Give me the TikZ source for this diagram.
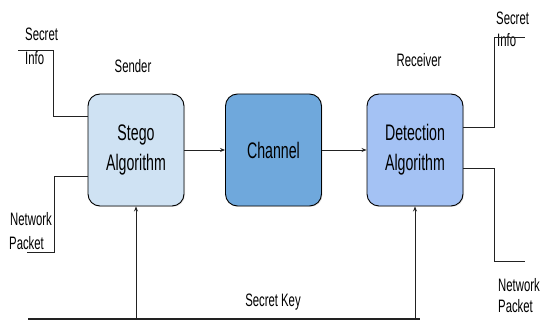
\documentclass[tikz,border=0pt]{standalone}
\usepackage{fontspec}
\setmainfont{Liberation Sans}[FakeStretch=0.63]
\usetikzlibrary{arrows.meta,shadows}
\definecolor{stegofill}{HTML}{CFE2F3}
\definecolor{chanfill}{HTML}{6FA8DC}
\definecolor{detfill}{HTML}{A4C2F4}
\definecolor{wirecol}{HTML}{222222}
\tikzset{
  block/.style={draw=black, line width=0.9pt, rounded corners=12pt,
    minimum width=96pt, minimum height=112pt, align=center,
    font=\fontsize{22.5}{30}\selectfont,
    drop shadow={opacity=0.2, shadow xshift=1pt, shadow yshift=-1pt}},
  lbl/.style={inner sep=0pt, anchor=base west, font=\fontsize{18}{22}\selectfont},
  clbl/.style={inner sep=0pt, anchor=base, font=\fontsize{18}{22}\selectfont},
  wire/.style={draw=wirecol, line width=0.9pt},
  flow/.style={wire, -{Stealth[length=5pt,width=4pt]}},
  keyline/.style={draw=wirecol, line width=1.4pt}
}
\begin{document}
\begin{tikzpicture}[x=1pt,y=-1pt]
\useasboundingbox (0,0) rectangle (541,320);

% processing blocks
\node[block, fill=stegofill] (stego) at (136,150) {Stego\\Algorithm};
\node[block, fill=chanfill]  (chan)  at (273.5,150) {Channel};
\node[block, fill=detfill]   (det)   at (415,150) {Detection\\Algorithm};

% headings
\node[clbl] (sender)   at (133,73) {Sender};
\node[clbl] (receiver) at (419,67) {Receiver};
\node[clbl] (keytxt)   at (273,307) {Secret Key};

% sender inputs
\node[lbl] (sinT1) at (25,41) {Secret};
\node[lbl] (sinT2) at (25,65) {Info};
\node[lbl] (npT1)  at (10,226) {Network};
\node[lbl] (npT2)  at (9,250) {Packet};

% receiver outputs
\node[lbl] (soT1) at (496,25) {Secret};
\node[lbl] (soT2) at (497,47) {Info};
\node[lbl] (noT1) at (498,292) {Network};
\node[lbl] (noT2) at (498,313) {Packet};

% wire corners and free ends
\coordinate (sinA) at (18,50);
\coordinate (sinB) at (53,116);
\coordinate (npA)  at (27,252);
\coordinate (npB)  at (54,176);
\coordinate (soA)  at (525,37);
\coordinate (soB)  at (494,127);
\coordinate (noA)  at (525,261);
\coordinate (noB)  at (494,168);
\coordinate (keyL) at (28,319);
\coordinate (keyR) at (420,319);

% sender side wiring
\draw[wire] (sinA) -| (sinB) -- (sinB -| stego.west);
\draw[wire] (npA) -| (npB) -- (npB -| stego.west);

% main data flow
\draw[flow] (stego.east) -- (chan.west);
\draw[flow] (chan.east) -- (det.west);

% receiver side wiring
\draw[wire] (soB -| det.east) -- (soB) |- (soA);
\draw[wire] (noB -| det.east) -- (noB) |- (noA);

% shared secret key
\draw[keyline] (keyL) -- (keyR);
\draw[flow] (stego.south |- keyL) -- (stego.south);
\draw[flow] (det.south |- keyL) -- (det.south);
\end{tikzpicture}
\end{document}
